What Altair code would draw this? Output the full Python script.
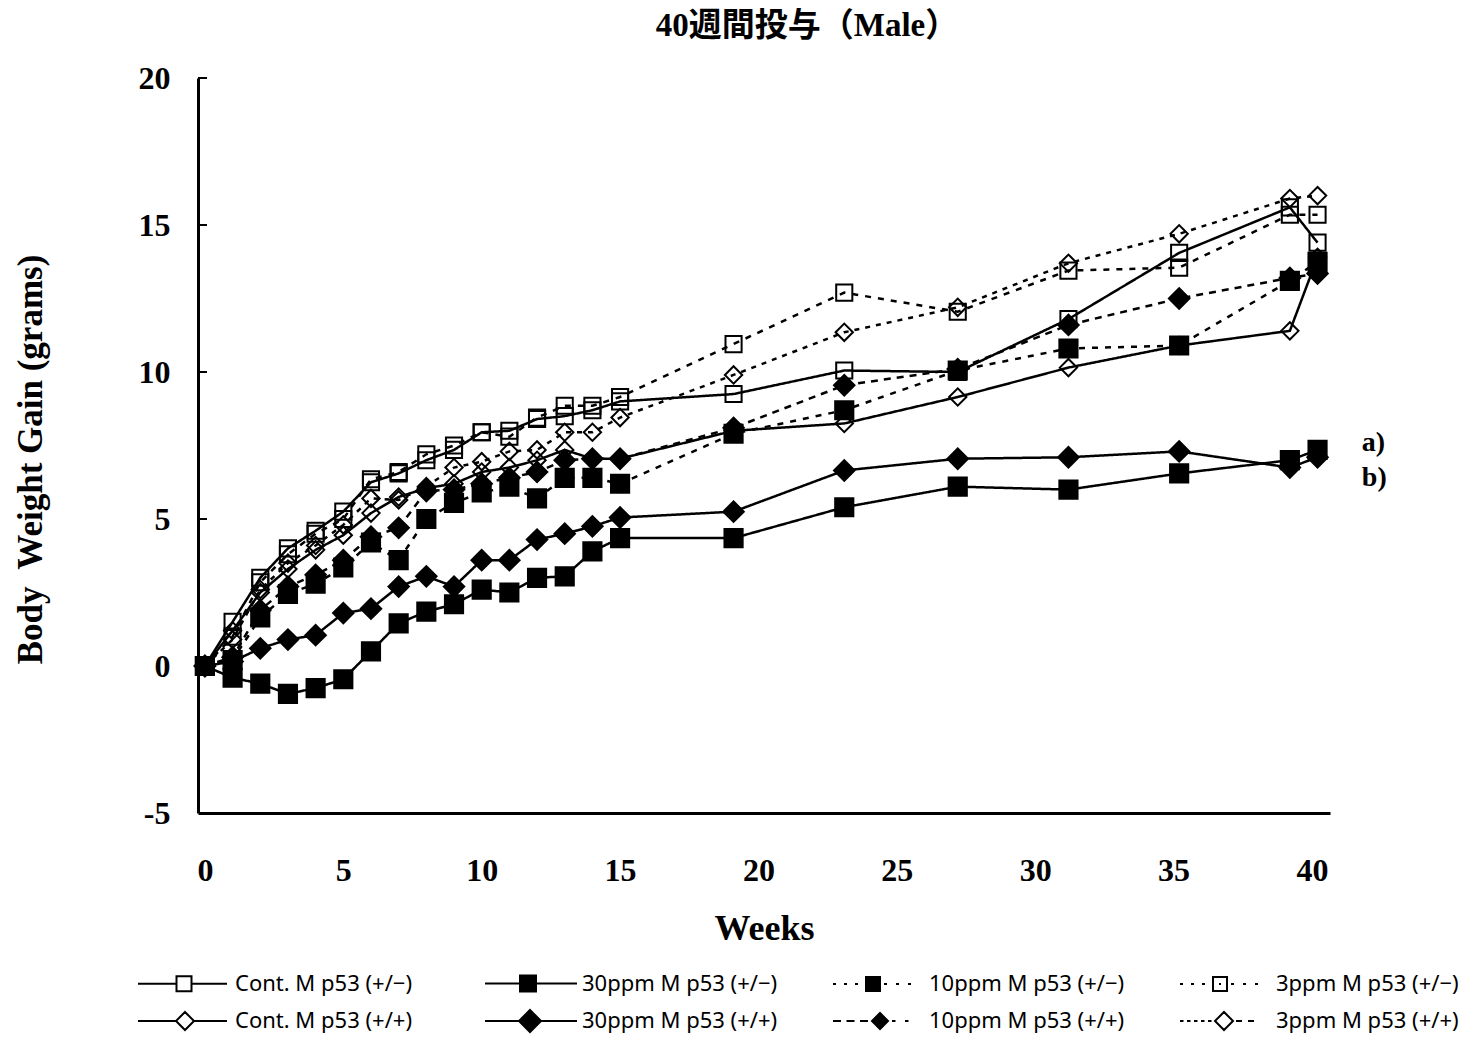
import altair as alt
import pandas as pd

TITLE = "40週間投与（Male）"
X_TITLE = "Weeks"
Y_TITLE = "Body\u00a0 Weight Gain (grams)"

WEEKS = [0, 1, 2, 3, 4, 5, 6, 7, 8, 9, 10, 11, 12, 13, 14, 15, 19.1, 23.1, 27.2, 31.2, 35.2, 39.2, 40.2]

SERIES = [
    "Cont. M p53 (+/\u2212)", "30ppm M p53 (+/\u2212)", "10ppm M p53 (+/\u2212)", "3ppm M p53 (+/\u2212)",
    "Cont. M p53 (+/+)", "30ppm M p53 (+/+)", "10ppm M p53 (+/+)", "3ppm M p53 (+/+)",
]

CONT_PM = [0, 1.5, 3.0, 4.0, 4.6, 5.25, 6.25, 6.55, 7.0, 7.35, 7.95, 8.0, 8.4, 8.5, 8.7, 9.0, 9.25, 10.05, 10.0, 11.8, 14.05, 15.6, 14.4]
P30_PM = [0, -0.4, -0.6, -0.95, -0.75, -0.45, 0.5, 1.45, 1.85, 2.1, 2.6, 2.5, 3.0, 3.05, 3.9, 4.35, 4.35, 5.4, 6.1, 6.0, 6.55, 7.0, 7.35]
P10_PM = [0, 0.2, 1.65, 2.45, 2.8, 3.35, 4.2, 3.6, 5.0, 5.55, 5.9, 6.1, 5.7, 6.4, 6.4, 6.2, 7.9, 8.7, 10.05, 10.8, 10.9, 13.1, 13.75]
P3_PM = [0, 1.0, 2.85, 3.8, 4.5, 5.0, 6.35, 6.6, 7.2, 7.5, 7.95, 7.8, 8.45, 8.85, 8.85, 9.15, 10.95, 12.7, 12.05, 13.45, 13.55, 15.35, 15.35]
CONT_PP = [0, 1.2, 2.5, 3.3, 3.95, 4.45, 5.2, 5.75, 6.05, 6.2, 6.6, 6.75, 7.0, 7.35, 7.05, 7.05, 8.0, 8.25, 9.15, 10.15, 10.9, 11.4, 13.9]
P30_PP = [0, 0.15, 0.6, 0.9, 1.05, 1.8, 1.95, 2.7, 3.05, 2.7, 3.6, 3.6, 4.3, 4.5, 4.75, 5.05, 5.25, 6.65, 7.05, 7.1, 7.3, 6.75, 7.1]
P10_PP = [0, 0.3, 1.9, 2.7, 3.1, 3.6, 4.4, 4.7, 5.95, 6.0, 6.2, 6.4, 6.6, 7.0, 7.05, 7.05, 8.1, 9.55, 10.1, 11.6, 12.5, 13.2, 13.35]
P3_PP = [0, 0.9, 2.6, 3.5, 4.1, 4.8, 5.7, 5.65, 6.1, 6.75, 6.95, 7.3, 7.35, 7.95, 7.95, 8.45, 9.9, 11.35, 12.2, 13.7, 14.7, 15.9, 16.0]

VALUES = [CONT_PM, P30_PM, P10_PM, P3_PM, CONT_PP, P30_PP, P10_PP, P3_PP]

X_TICKS = [0, 5, 10, 15, 20, 25, 30, 35, 40]
Y_TICKS = [-5, 0, 5, 10, 15, 20]
Y_INNER_TICKS = [0, 5, 10, 15, 20]

NOTE_TEXT = ["a)", "b)"]
NOTE_WEEK = [41.8, 41.8]
NOTE_GAIN = [7.6, 6.4]

# ---- styles ----
SHAPES = ["square", "square", "square", "square", "diamond", "diamond", "diamond", "diamond"]
FILLS = ["transparent", "black", "black", "transparent", "transparent", "black", "black", "transparent"]
SIZES = [260, 330, 330, 260, 300, 420, 420, 300]
DASHES = [[1, 0], [1, 0], [6, 7], [6, 7], [1, 0], [1, 0], [7, 6], [5, 6]]
WIDTHS = [2.5, 2.5, 2.5, 2.5, 2.5, 2.5, 2.5, 2.5]


def seg(a, b):
    return f"M{a},0L{b},0"


def sq(c, h):
    return f"M{c - h},{-h}L{c + h},{-h}L{c + h},{h}L{c - h},{h}Z"


def dm(c, h):
    return f"M{c},{-h}L{c + h},0L{c},{h}L{c - h},0Z"


def dots(starts, length):
    return "".join(seg(s, round(s + length, 2)) for s in starts)


LEGEND_PATHS = [
    seg(-1, 2.85) + sq(3.6, 0.75) + seg(4.35, 7.9),
    seg(-1, 2.5) + sq(3.3, 0.8) + seg(4.1, 8.2),
    dots([-0.9, 0.2, 1.3], 0.3) + sq(3.1, 0.7) + dots([4.2, 5.4, 6.6], 0.3),
    dots([-0.9, 0.2, 1.3], 0.3) + sq(3.1, 0.7) + seg(3.0, 3.2) + dots([4.2, 5.4, 6.6], 0.3),
    seg(-1, 2.8) + dm(3.7, 0.9) + seg(4.6, 7.9),
    seg(-1, 2.4) + dm(3.5, 1.1) + seg(4.6, 8.2),
    dots([-0.9, 0.45, 1.8], 0.8) + dm(3.8, 0.8) + dots([5.0, 6.3], 0.35),
    dots([-0.9, -0.2, 0.5, 1.2, 1.9], 0.35) + dm(3.5, 0.9) + dots([4.7, 5.9], 0.6),
]
LEGEND_FILLS = FILLS
LEGEND_STROKES = ["black"] * 8

SERIF = "Liberation Serif"
SANS = "Noto Sans"

rows = []
for name, vals in zip(SERIES, VALUES):
    for w, v in zip(WEEKS, vals):
        rows.append({"series": name, "week": w, "gain": v})
df = pd.DataFrame(rows)

x_scale = alt.Scale(domain=[-0.25, 40.65], nice=False, zero=False)
y_scale = alt.Scale(domain=[-5, 20], nice=False, zero=False)

x_axis = alt.Axis(
    values=X_TICKS, tickSize=0, labelPadding=42, labelFlush=False, labelOverlap=False,
    labelFont=SERIF, labelFontWeight="bold", labelFontSize=32, labelColor="black",
    domainColor="black", domainWidth=3, grid=False, ticks=False,
    title=X_TITLE, titleFont=SERIF, titleFontWeight="bold", titleFontSize=36, titleColor="black",
    titleY=115, titleBaseline="middle",
)
y_axis = alt.Axis(
    values=Y_TICKS, tickSize=0, labelPadding=28, labelOverlap=False,
    labelExpr="'' + datum.value",
    labelFont=SERIF, labelFontWeight="bold", labelFontSize=32, labelColor="black",
    domainColor="black", domainWidth=3, grid=False, ticks=False,
    title=Y_TITLE, titleFont=SERIF, titleFontWeight="bold", titleFontSize=35, titleColor="black",
    titleX=-168, titleY=381, titleAngle=270, titleAlign="center", titleBaseline="middle",
)

X = alt.X("week:Q", scale=x_scale, axis=x_axis)
Y = alt.Y("gain:Q", scale=y_scale, axis=y_axis)

layers = []

for name, dash, sw in zip(SERIES, DASHES, WIDTHS):
    layers.append(
        alt.Chart(df).transform_filter(alt.datum.series == name).mark_line(
            color="black", strokeWidth=sw, strokeDash=dash
        ).encode(x=X, y=Y, order="week:Q")
    )

order_draw = [0, 3, 4, 7, 1, 2, 5, 6]
for i in order_draw:
    layers.append(
        alt.Chart(df).transform_filter(alt.datum.series == SERIES[i]).mark_point(
            shape=SHAPES[i], size=SIZES[i], filled=True, fill=FILLS[i],
            stroke="black", strokeWidth=2, opacity=1, fillOpacity=1,
        ).encode(x=X, y=Y)
    )

# inner y ticks
tick_df = pd.DataFrame({"gain": Y_INNER_TICKS})
layers.append(
    alt.Chart(tick_df).mark_rule(color="black", strokeWidth=2).encode(
        y=Y, x=alt.value(0), x2=alt.value(9),
    )
)

leg = alt.Legend(
    title=None, orient="none", legendX=-61, legendY=893, columns=4, direction="horizontal",
    symbolSize=400, symbolStrokeWidth=2, symbolOpacity=1,
    labelFont=SANS, labelFontSize=22, labelColor="black", labelOffset=76, labelLimit=0,
    rowPadding=9, columnPadding=50, gridAlign="all", padding=0,
)
layers.append(
    alt.Chart(df).transform_filter("false").mark_point(
        filled=False, strokeWidth=2, opacity=1
    ).encode(
        x=X, y=Y,
        shape=alt.Shape("series:N", scale=alt.Scale(domain=SERIES, range=LEGEND_PATHS), legend=leg),
        fill=alt.Fill("series:N", scale=alt.Scale(domain=SERIES, range=LEGEND_FILLS), legend=leg),
        stroke=alt.Stroke("series:N", scale=alt.Scale(domain=SERIES, range=LEGEND_STROKES), legend=leg),
    )
)

note_df = pd.DataFrame({"week": NOTE_WEEK, "gain": NOTE_GAIN, "label": NOTE_TEXT})
layers.append(
    alt.Chart(note_df).mark_text(
        align="left", baseline="middle", font=SERIF, fontWeight="bold", fontSize=28, color="black"
    ).encode(x=X, y=Y, text="label:N")
)

chart = alt.layer(*layers).properties(
    width=1132, height=735,
    title=alt.TitleParams(
        TITLE, font="Liberation Serif, Noto Sans CJK JP", fontSize=33, fontWeight="bold", color="black",
        anchor="middle", offset=19, dx=43,
    ),
    padding={"left": 190, "top": 70, "right": 136, "bottom": 222},
    autosize=alt.AutoSizeParams(type="none"),
    background="white",
).configure_view(stroke=None)

chart.save("out.html", embed_options={"renderer": "svg", "actions": False})
